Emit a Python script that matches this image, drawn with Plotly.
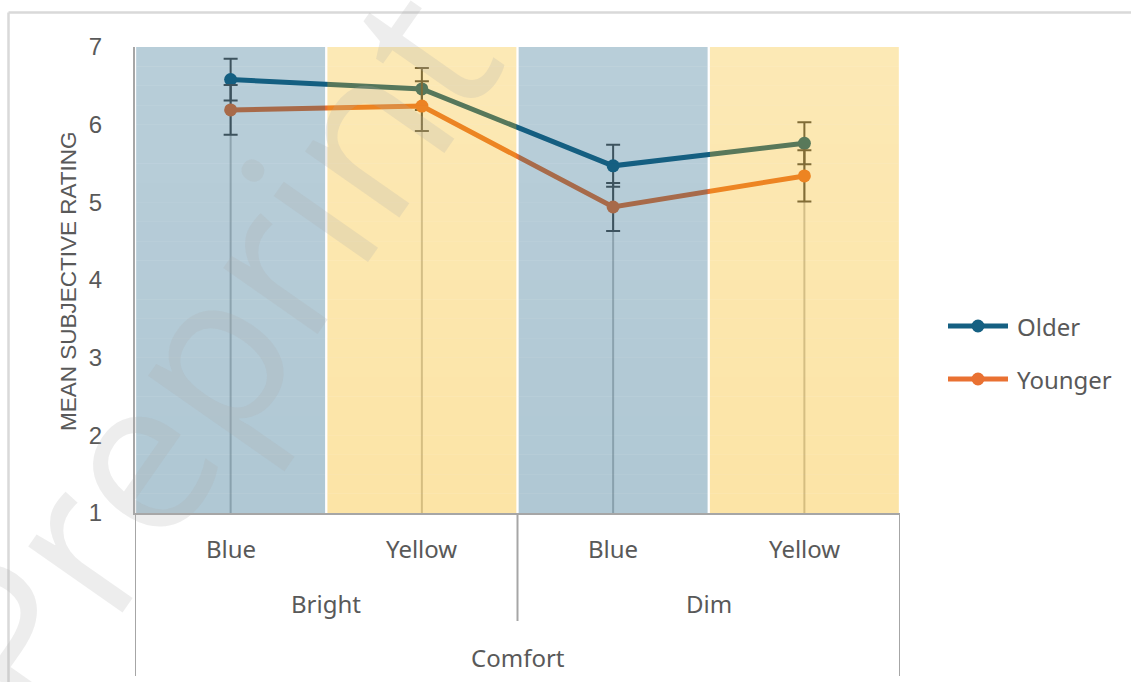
import plotly.graph_objects as go

# ---------------- data ----------------
groups = ["Bright", "Bright", "Dim", "Dim"]
colours = ["Blue", "Yellow", "Blue", "Yellow"]
outer_label = "Comfort"
older = [6.58, 6.46, 5.47, 5.76]
older_err = [0.27, 0.27, 0.27, 0.27]
younger = [6.19, 6.24, 4.94, 5.34]
younger_err = [0.32, 0.32, 0.31, 0.33]
y_ticks = [1, 2, 3, 4, 5, 6, 7]
y_title = "MEAN SUBJECTIVE RATING"
series_names = ["Older", "Younger"]

# ---------------- style ----------------
OLDER_C = "#156082"
YOUNGER_C = "#E97132"
TXT = "#595959"
AXIS_C = "#A6A6A6"
W, H = 1131, 682
ML, MR, MT, MB = 135, 231, 47, 169
PW, PH = W - ML - MR, H - MT - MB

def px_x(p):  # pixel -> paper x
    return (p - ML) / PW

def px_y(p):  # pixel -> paper y
    return (H - MB - p) / PH

x = list(range(len(colours)))
ymin, ymax = y_ticks[0], y_ticks[-1]

fig = go.Figure()

# drop lines (from highest point down to axis)
dx, dy = [], []
for i in x:
    dx += [i, i, None]
    dy += [ymin, max(older[i], younger[i]), None]
fig.add_trace(go.Scatter(x=dx, y=dy, mode="lines", line=dict(color="#C4C4C4", width=2),
                         showlegend=False, hoverinfo="skip"))

fig.add_trace(go.Scatter(
    x=x, y=older, mode="lines+markers", name=series_names[0],
    line=dict(color=OLDER_C, width=5), marker=dict(size=13, color=OLDER_C),
    error_y=dict(type="data", array=older_err, color="#4F4F4F", thickness=2, width=7),
    showlegend=False))
fig.add_trace(go.Scatter(
    x=x, y=younger, mode="lines+markers", name=series_names[1],
    line=dict(color=YOUNGER_C, width=5), marker=dict(size=13, color=YOUNGER_C),
    error_y=dict(type="data", array=younger_err, color="#4F4F4F", thickness=2, width=7),
    showlegend=False))

shapes = []
# translucent gradient background columns drawn above the data
base = {"Blue": ((21, 92, 128), 0.30, 0.34), "Yellow": ((246, 178, 0), 0.29, 0.35)}
N = 24
half = 0.494
for i, c in enumerate(colours):
    rgb, a_top, a_bot = base[c]
    for k in range(N):
        y0 = ymin + (ymax - ymin) * k / N
        y1 = ymin + (ymax - ymin) * (k + 1) / N
        a = a_bot + (a_top - a_bot) * (k + 0.5) / N
        shapes.append(dict(type="rect", xref="x", yref="y", x0=i - half, x1=i + half,
                           y0=y0, y1=y1, layer="above", line=dict(width=0),
                           fillcolor=f"rgba({rgb[0]},{rgb[1]},{rgb[2]},{a:.3f})"))

# outer frame of chart area
shapes.append(dict(type="line", xref="paper", yref="paper", x0=px_x(8.5), x1=px_x(W + 5),
                   y0=px_y(12.5), y1=px_y(12.5), line=dict(color="#D9D9D9", width=2.5)))
shapes.append(dict(type="line", xref="paper", yref="paper", x0=px_x(8.5), x1=px_x(8.5),
                   y0=px_y(12.5), y1=px_y(H + 5), line=dict(color="#D9D9D9", width=2.5)))

# category divider lines of the multi-level axis
shapes.append(dict(type="line", xref="x", yref="paper", x0=-0.5, x1=-0.5,
                   y0=0, y1=px_y(676), line=dict(color=AXIS_C, width=2)))
shapes.append(dict(type="line", xref="x", yref="paper", x0=len(x) - 0.5, x1=len(x) - 0.5,
                   y0=0, y1=px_y(676), line=dict(color=AXIS_C, width=2)))
for i in range(1, len(groups)):
    if groups[i] != groups[i - 1]:
        shapes.append(dict(type="line", xref="x", yref="paper", x0=i - 0.5, x1=i - 0.5,
                           y0=0, y1=px_y(621), line=dict(color=AXIS_C, width=2)))

LBL_FONT = dict(family="Noto Sans", size=24, color=TXT)
annotations = []
for i, c in enumerate(colours):
    annotations.append(dict(x=i, y=px_y(548), xref="x", yref="paper", text=c, showarrow=False,
                            font=LBL_FONT, xanchor="center", yanchor="middle"))
seen = []
for g in groups:
    if g not in seen:
        seen.append(g)
for g in seen:
    idx = [i for i, gg in enumerate(groups) if gg == g]
    annotations.append(dict(x=sum(idx) / len(idx), y=px_y(603), xref="x", yref="paper", text=g,
                            showarrow=False, font=LBL_FONT, xanchor="center", yanchor="middle"))
annotations.append(dict(x=(x[0] + x[-1]) / 2, y=px_y(657), xref="x", yref="paper", text=outer_label,
                        showarrow=False, font=LBL_FONT, xanchor="center", yanchor="middle"))
# y-axis title
annotations.append(dict(x=px_x(68), y=px_y(281), xref="paper", yref="paper", text=y_title,
                        showarrow=False, textangle=-90,
                        font=dict(family="Liberation Sans", size=22.5, color=TXT),
                        xanchor="center", yanchor="middle"))

# custom legend (long line symbols)
leg_y = [326, 379]
for name, col, ly in zip(series_names, [OLDER_C, YOUNGER_C], leg_y):
    shapes.append(dict(type="line", xref="paper", yref="paper", x0=px_x(948), x1=px_x(1008),
                       y0=px_y(ly), y1=px_y(ly), line=dict(color=col, width=5)))
    shapes.append(dict(type="circle", xref="paper", yref="paper", xsizemode="pixel",
                       ysizemode="pixel", xanchor=px_x(978), yanchor=px_y(ly),
                       x0=-6.5, x1=6.5, y0=-6.5, y1=6.5, fillcolor=col, line=dict(width=0)))
    annotations.append(dict(x=px_x(1015), y=px_y(ly), xref="paper", yref="paper", text=name,
                            showarrow=False, font=LBL_FONT, xanchor="left", yanchor="middle"))

# watermark
annotations.append(dict(x=px_x(205), y=px_y(350), xref="paper", yref="paper", text="Preprint",
                        showarrow=False, textangle=-55,
                        font=dict(family="Open Sans", size=215, weight=400,
                                  color="rgba(175,175,175,0.22)"),
                        xanchor="center", yanchor="middle"))

fig.update_layout(
    width=W, height=H,
    margin=dict(l=ML, r=MR, t=MT, b=MB),
    paper_bgcolor="white", plot_bgcolor="white",
    showlegend=False,
    shapes=shapes, annotations=annotations,
    xaxis=dict(range=[-0.5, len(x) - 0.5], showticklabels=False, showgrid=False, zeroline=False,
               showline=True, linecolor=AXIS_C, linewidth=2, ticks=""),
    yaxis=dict(range=[ymin, ymax], tickvals=y_ticks, showgrid=False, zeroline=False,
               showline=True, linecolor=AXIS_C, linewidth=2, ticks="",
               ticklabelstandoff=26,
               tickfont=dict(family="Liberation Sans", size=24, color=TXT)),
)

fig.write_html("out.html")
